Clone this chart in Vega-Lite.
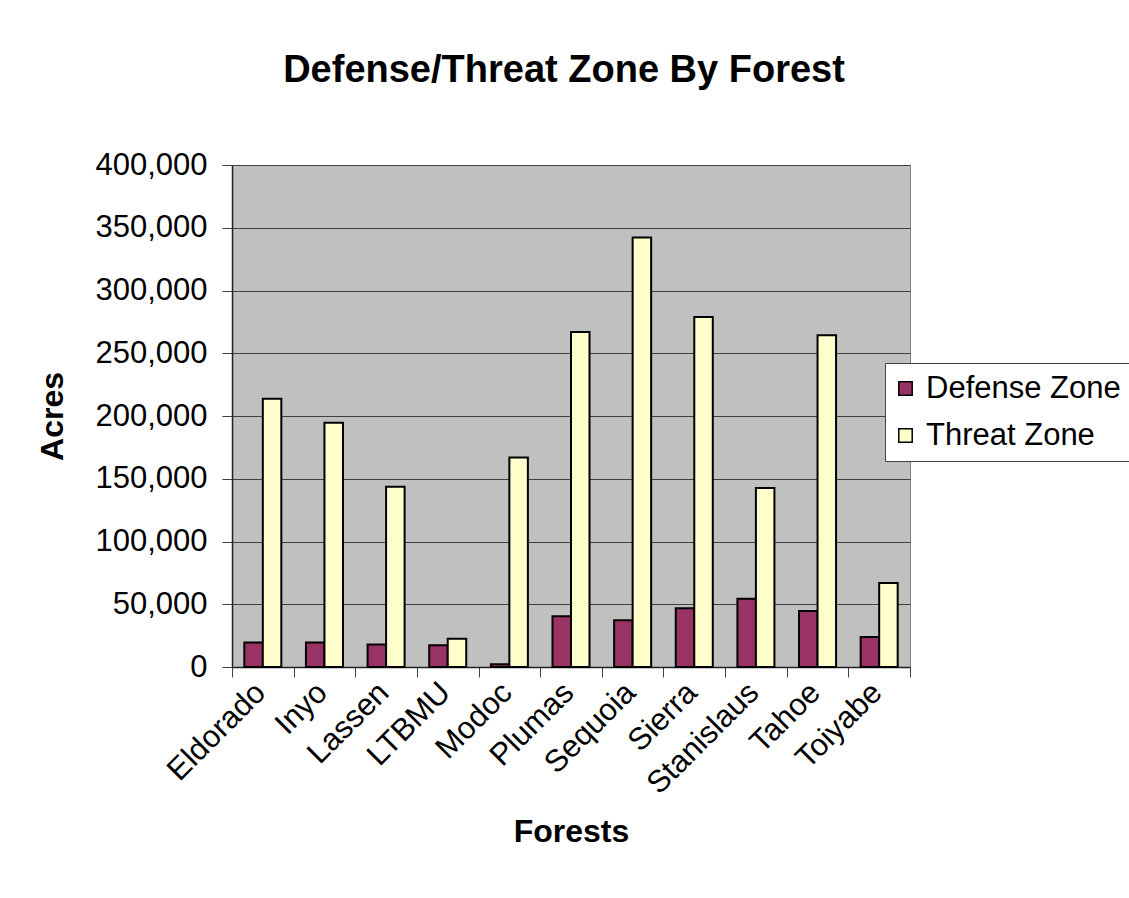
{
  "$schema": "https://vega.github.io/schema/vega-lite/v6.json",
  "autosize": "none",
  "width": 678,
  "height": 502,
  "padding": {"left": 232, "top": 165, "right": 219, "bottom": 231},
  "background": "white",
  "title": {
    "text": "Defense/Threat Zone By Forest",
    "font": "Liberation Sans",
    "fontSize": 38,
    "fontWeight": "bold",
    "color": "black",
    "anchor": "middle",
    "frame": "group",
    "baseline": "alphabetic",
    "offset": 29,
    "dx": -7
  },
  "data": {
    "values": [
      {"forest": "Eldorado", "zone": "Defense Zone", "acres": 19500},
      {"forest": "Eldorado", "zone": "Threat Zone", "acres": 213800},
      {"forest": "Inyo", "zone": "Defense Zone", "acres": 19500},
      {"forest": "Inyo", "zone": "Threat Zone", "acres": 194700},
      {"forest": "Lassen", "zone": "Defense Zone", "acres": 17900},
      {"forest": "Lassen", "zone": "Threat Zone", "acres": 143600},
      {"forest": "LTBMU", "zone": "Defense Zone", "acres": 17400},
      {"forest": "LTBMU", "zone": "Threat Zone", "acres": 22500},
      {"forest": "Modoc", "zone": "Defense Zone", "acres": 2100},
      {"forest": "Modoc", "zone": "Threat Zone", "acres": 167000},
      {"forest": "Plumas", "zone": "Defense Zone", "acres": 40400},
      {"forest": "Plumas", "zone": "Threat Zone", "acres": 267000},
      {"forest": "Sequoia", "zone": "Defense Zone", "acres": 37200},
      {"forest": "Sequoia", "zone": "Threat Zone", "acres": 342200},
      {"forest": "Sierra", "zone": "Defense Zone", "acres": 46800},
      {"forest": "Sierra", "zone": "Threat Zone", "acres": 278900},
      {"forest": "Stanislaus", "zone": "Defense Zone", "acres": 54300},
      {"forest": "Stanislaus", "zone": "Threat Zone", "acres": 142600},
      {"forest": "Tahoe", "zone": "Defense Zone", "acres": 44700},
      {"forest": "Tahoe", "zone": "Threat Zone", "acres": 264300},
      {"forest": "Toiyabe", "zone": "Defense Zone", "acres": 23900},
      {"forest": "Toiyabe", "zone": "Threat Zone", "acres": 67000}
    ]
  },
  "mark": {"type": "bar", "stroke": "black", "strokeWidth": 2},
  "encoding": {
    "x": {
      "field": "forest",
      "type": "nominal",
      "sort": null,
      "scale": {"paddingInner": 0, "paddingOuter": 0},
      "axis": {
        "title": "Forests",
        "titleFont": "Liberation Sans",
        "titleFontSize": 32,
        "titleFontWeight": "bold",
        "titleColor": "black",
        "titleBaseline": "alphabetic",
        "titleY": 174,
        "labelAngle": -45,
        "labelFont": "Liberation Sans",
        "labelFontSize": 31,
        "labelColor": "black",
        "labelPadding": 0,
        "labelOffset": -13,
        "tickBand": "extent",
        "tickSize": 10,
        "tickColor": "#404040",
        "domainColor": "#202020",
        "domainWidth": 1.5,
        "grid": false
      }
    },
    "xOffset": {
      "field": "zone",
      "type": "nominal",
      "scale": {"paddingInner": 0, "paddingOuter": 0.665}
    },
    "y": {
      "field": "acres",
      "type": "quantitative",
      "scale": {"domain": [0, 400000], "nice": false},
      "axis": {
        "title": "Acres",
        "titleFont": "Liberation Sans",
        "titleFontSize": 32,
        "titleFontWeight": "bold",
        "titleColor": "black",
        "titleBaseline": "alphabetic",
        "titleX": -170,
        "values": [0, 50000, 100000, 150000, 200000, 250000, 300000, 350000, 400000],
        "format": ",d",
        "labelFont": "Liberation Sans",
        "labelFontSize": 31,
        "labelColor": "black",
        "labelPadding": 15,
        "tickSize": 10,
        "tickColor": "#404040",
        "domainColor": "#202020",
        "domainWidth": 1.5,
        "grid": true,
        "gridColor": "#404040",
        "gridWidth": 1
      }
    },
    "color": {
      "field": "zone",
      "type": "nominal",
      "scale": {"domain": ["Defense Zone", "Threat Zone"], "range": ["#993366", "#FFFFCC"]},
      "legend": {
        "title": null,
        "orient": "none",
        "legendX": 653,
        "legendY": 198,
        "fillColor": "white",
        "strokeColor": "#404040",
        "padding": 10,
        "symbolOffset": -5,
        "symbolType": "square",
        "symbolSize": 180,
        "symbolStrokeColor": "black",
        "symbolStrokeWidth": 1.5,
        "symbolOpacity": 1,
        "labelFont": "Liberation Sans",
        "labelFontSize": 31,
        "labelColor": "black",
        "labelOffset": 5,
        "labelLimit": 400,
        "rowPadding": 15
      }
    }
  },
  "config": {
    "view": {"fill": "#C0C0C0", "stroke": "#808080", "strokeWidth": 1}
  }
}
